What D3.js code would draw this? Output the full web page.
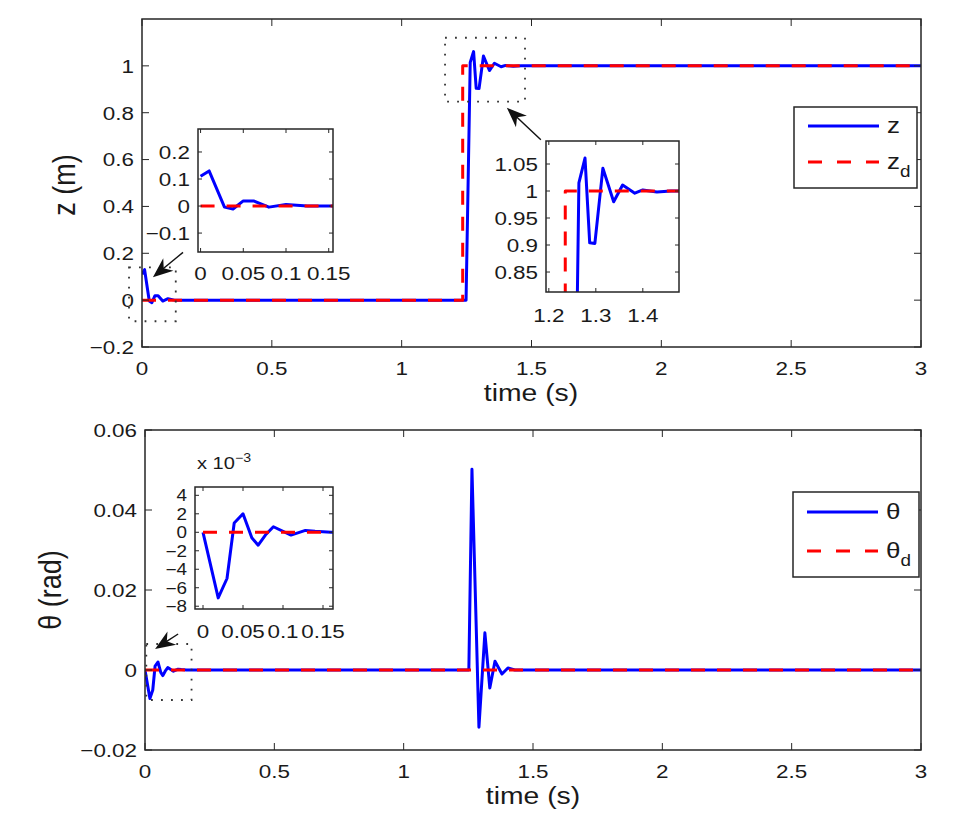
<!DOCTYPE html>
<html><head><meta charset="utf-8">
<script src="https://cdn.jsdelivr.net/npm/d3@7"></script>
<style>
body{margin:0;background:#fff}
text{font-family:"Liberation Sans",Arial,Helvetica,sans-serif;fill:#1a1a1a}
</style>
</head><body>
<svg id="c" width="956" height="819" xmlns="http://www.w3.org/2000/svg"></svg>
<script>
// ---------------- data ----------------
const zTime = [0, 0.01, 0.028, 0.038, 0.05, 0.062, 0.08, 0.1, 0.125, 0.15, 1.248, 1.264, 1.277, 1.287, 1.298, 1.315, 1.338, 1.357, 1.383, 1.40, 1.43, 1.46, 3.0];
const zVal  = [0.11, 0.13, -0.004, -0.011, 0.019, 0.019, -0.004, 0.006, 0, 0, 0, 1.015, 1.061, 0.904, 0.903, 1.042, 0.98, 1.011, 0.996, 1.002, 0.998, 1.0, 1.0];
const zdTime = [0, 1.235, 1.235, 3.0];
const zdVal  = [0, 0, 1, 1];
const thTime = [0, 0.019, 0.03, 0.039, 0.05, 0.061, 0.069, 0.078, 0.088, 0.11, 0.128, 0.14, 0.16, 1.252, 1.264, 1.291, 1.314, 1.333, 1.353, 1.38, 1.403, 1.43, 3.0];
const thVal  = [0, -0.0071, -0.0050, 0.0010, 0.0020, -0.0006, -0.0014, -0.0003, 0.0006, -0.0003, 0.0002, 0.0001, 0, 0, 0.0502, -0.0143, 0.0093, -0.0045, 0.0022, -0.0010, 0.0005, 0, 0];
const thdTime = [0, 3.0];
const thdVal  = [0, 0];

const mainXTicks = [0, 0.5, 1, 1.5, 2, 2.5, 3];
const zYTicks = [-0.2, 0, 0.2, 0.4, 0.6, 0.8, 1];
const thYTicks = [-0.02, 0, 0.02, 0.04, 0.06];
const in1XTicks = [0, 0.05, 0.1, 0.15];
const in1YTicks = [-0.1, 0, 0.1, 0.2];
const in2XTicks = [1.2, 1.3, 1.4];
const in2YTicks = [0.85, 0.9, 0.95, 1, 1.05];
const in3XTicks = [0, 0.05, 0.1, 0.15];
const in3YTicks = [-8, -6, -4, -2, 0, 2, 4]; // x 10^-3

// ---------------- drawing ----------------
const svg = d3.select("#c");
svg.append("rect").attr("width", 956).attr("height", 819).attr("fill", "#fff");
const SX = 1.18; // horizontal text stretch of the original figure
const BLUE = "#0000ff", RED = "#ff0000", AX = "#262626";
const FS = 19;
const fmt = v => (v < 0 ? "\u2212" : "") + String(+Math.abs(v).toFixed(5));

function stext(g, x, y, str, size, anchor) {
  return g.append("text").attr("transform", `translate(${x},${y}) scale(${SX},1)`)
    .attr("font-size", size).attr("text-anchor", anchor || "middle").text(str);
}

let clipN = 0;
function panel(o) {
  const g = svg.append("g");
  const x = d3.scaleLinear().domain(o.xd).range([o.x0, o.x1]);
  const y = d3.scaleLinear().domain(o.yd).range([o.y1, o.y0]);
  const yfs = o.yfs || FS;
  if (o.fill) g.append("rect").attr("x", o.x0).attr("y", o.y0).attr("width", o.x1 - o.x0).attr("height", o.y1 - o.y0).attr("fill", "#fff");
  const id = "clip" + (clipN++);
  svg.append("clipPath").attr("id", id).append("rect").attr("x", o.x0).attr("y", o.y0).attr("width", o.x1 - o.x0).attr("height", o.y1 - o.y0);
  const data = g.append("g").attr("clip-path", `url(#${id})`);
  const L = o.tick;
  const tk = g.append("g").attr("stroke", AX).attr("stroke-width", 1);
  o.xt.forEach(v => {
    const px = x(v);
    tk.append("line").attr("x1", px).attr("x2", px).attr("y1", o.y1).attr("y2", o.y1 - L);
    tk.append("line").attr("x1", px).attr("x2", px).attr("y1", o.y0).attr("y2", o.y0 + L);
    stext(g, px, o.y1 + o.xlab, fmt(v), FS, "middle");
  });
  o.yt.forEach(v => {
    const py = y(v);
    tk.append("line").attr("x1", o.x0).attr("x2", o.x0 + L).attr("y1", py).attr("y2", py);
    tk.append("line").attr("x1", o.x1).attr("x2", o.x1 - L).attr("y1", py).attr("y2", py);
    stext(g, o.x0 - 8, py + yfs * 0.36, fmt(v), yfs, "end");
  });
  g.append("rect").attr("x", o.x0).attr("y", o.y0).attr("width", o.x1 - o.x0).attr("height", o.y1 - o.y0)
    .attr("fill", "none").attr("stroke", AX).attr("stroke-width", 1.5);
  return {g, x, y, data};
}

function drawSeries(p, tArr, vArr, color, dashed, sc) {
  const pts = tArr.map((t, i) => [t, vArr[i] * (sc || 1)]);
  const line = d3.line().x(d => p.x(d[0])).y(d => p.y(d[1]));
  p.data.append("path").attr("d", line(pts)).attr("fill", "none").attr("stroke", color)
    .attr("stroke-width", 3).attr("stroke-linejoin", "round")
    .attr("stroke-dasharray", dashed ? "14,12" : null);
}

function dotRect(p, t0, t1, v0, v1) {
  svg.append("rect").attr("x", p.x(t0)).attr("y", p.y(v1)).attr("width", p.x(t1) - p.x(t0)).attr("height", p.y(v0) - p.y(v1))
    .attr("fill", "none").attr("stroke", "#333").attr("stroke-width", 1.8).attr("stroke-dasharray", "1.8,8.2");
}

function arrow(p, tTail, vTail, tTip, vTip) {
  const x1 = p.x(tTail), y1 = p.y(vTail), x2 = p.x(tTip), y2 = p.y(vTip);
  const ang = Math.atan2(y1 - y2, x1 - x2);
  const Lh = 20, W = 8;
  svg.append("line").attr("x1", x1).attr("y1", y1).attr("x2", x2 + Math.cos(ang) * 12).attr("y2", y2 + Math.sin(ang) * 12)
    .attr("stroke", "#111").attr("stroke-width", 1.4);
  const pt = (a, b) => [x2 + Math.cos(ang) * a - Math.sin(ang) * b, y2 + Math.sin(ang) * a + Math.cos(ang) * b];
  const poly = [pt(0, 0), pt(Lh, W), pt(Lh * 0.7, 0), pt(Lh, -W)];
  svg.append("path").attr("d", "M" + poly.map(q => q.join(",")).join("L") + "Z").attr("fill", "#111");
}

function legend(x0, y0, w, h, label, yA, yB) {
  const g = svg.append("g");
  g.append("rect").attr("x", x0).attr("y", y0).attr("width", w).attr("height", h).attr("fill", "#fff").attr("stroke", AX).attr("stroke-width", 1.5);
  g.append("line").attr("x1", x0 + 14).attr("x2", x0 + 85).attr("y1", yA).attr("y2", yA).attr("stroke", BLUE).attr("stroke-width", 3);
  g.append("line").attr("x1", x0 + 14).attr("x2", x0 + 85).attr("y1", yB).attr("y2", yB).attr("stroke", RED).attr("stroke-width", 3).attr("stroke-dasharray", "14,15");
  stext(g, x0 + 93, yA + 7, label, 22, "start");
  const t = stext(g, x0 + 93, yB + 7, label, 22, "start");
  t.append("tspan").attr("font-size", 16).attr("dy", 8).text("d");
}

// ---- top main panel ----
const pz = panel({x0: 142, x1: 921, y0: 19, y1: 347, xd: [0, 3], yd: [-0.2, 1.2], xt: mainXTicks, yt: zYTicks, tick: 7, xlab: 28});
drawSeries(pz, zTime, zVal, BLUE, false);
drawSeries(pz, zdTime, zdVal, RED, true);
stext(svg, 531, 401, "time (s)", 24, "middle");
svg.append("text").attr("transform", `translate(75,185) scale(${SX},1) rotate(-90)`).attr("font-size", 27).attr("text-anchor", "middle").text("z (m)");

dotRect(pz, -0.05, 0.13, -0.09, 0.14);
dotRect(pz, 1.167, 1.475, 0.847, 1.12);
arrow(pz, 0.158, 0.204, 0.042, 0.098);
arrow(pz, 1.536, 0.685, 1.405, 0.821);
legend(794, 107, 123, 81, "z", 126, 162);

// inset 1
const pi1 = panel({x0: 198, x1: 333, y0: 129, y1: 252, xd: [-0.003, 0.155], yd: [-0.17, 0.285], xt: in1XTicks, yt: in1YTicks, tick: 4, xlab: 28, fill: true});
drawSeries(pi1, zTime, zVal, BLUE, false);
drawSeries(pi1, zdTime, zdVal, RED, true);
// inset 2
const pi2 = panel({x0: 546, x1: 679, y0: 141, y1: 292, xd: [1.194, 1.477], yd: [0.813, 1.0926], xt: in2XTicks, yt: in2YTicks, tick: 4, xlab: 30, fill: true});
drawSeries(pi2, zTime, zVal, BLUE, false);
drawSeries(pi2, zdTime, zdVal, RED, true);

// ---- bottom main panel ----
const pt = panel({x0: 145, x1: 921, y0: 430, y1: 750, xd: [0, 3], yd: [-0.02, 0.06], xt: mainXTicks, yt: thYTicks, tick: 7, xlab: 28});
drawSeries(pt, thTime, thVal, BLUE, false);
drawSeries(pt, thdTime, thdVal, RED, true);
stext(svg, 533, 804, "time (s)", 24, "middle");
svg.append("text").attr("transform", `translate(61,590) scale(${SX},1) rotate(-90)`).attr("font-size", 27).attr("text-anchor", "middle").text("\u03b8 (rad)");

dotRect(pt, 0.005, 0.18, -0.0075, 0.0065);
arrow(pt, 0.128, 0.009, 0.039, 0.00525);
legend(793, 492, 126, 85, "\u03b8", 512, 551);

// inset 3
const pi3 = panel({x0: 195, x1: 333, y0: 487, y1: 609, xd: [-0.01, 0.1625], yd: [-8.3, 4.9], xt: in3XTicks, yt: in3YTicks, tick: 4, xlab: 29, yfs: 16, fill: true});
drawSeries(pi3, thTime, thVal, BLUE, false, 1000);
drawSeries(pi3, thdTime, thdVal, RED, true, 1000);
const ex = stext(svg, 197, 469, "x 10", 17, "start");
ex.append("tspan").attr("font-size", 12).attr("dy", -7).text("\u22123");
</script>
</body></html>
